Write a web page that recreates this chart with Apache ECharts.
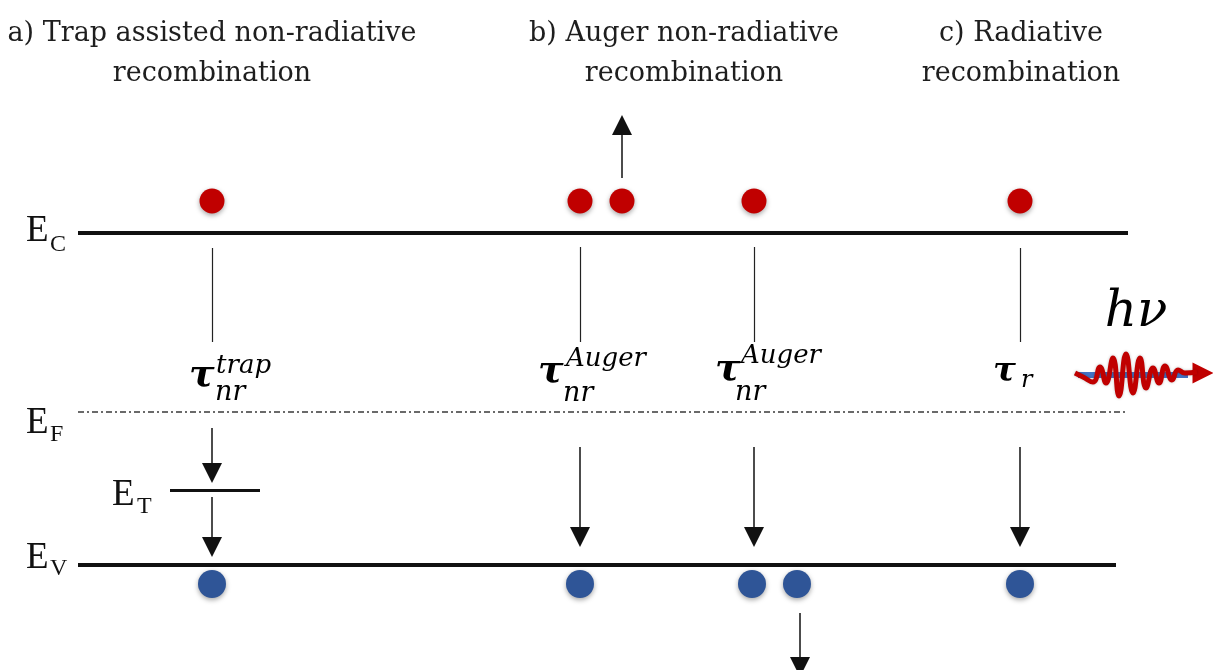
<!DOCTYPE html>
<html>
<head>
<meta charset="utf-8">
<script src="https://cdn.jsdelivr.net/npm/echarts@6/dist/echarts.min.js"></script>
<style>html,body{margin:0;padding:0;background:#fff}#c{width:1213px;height:670px}</style>
</head>
<body>
<div id="c"></div>
<script>
// ---- data (diagram coordinates, px-like units on hidden value axes) ----
const titleText = ['a) Trap assisted non-radiative', 'recombination', 'b) Auger non-radiative', 'recombination', 'c) Radiative', 'recombination'];
const titleX = [212, 212, 684, 684, 1021, 1021];
const titleY = [34, 74, 34, 74, 34, 74];

const bandNames = ['C', 'F', 'V', 'T'];
const bandY = [233, 412, 565, 490];
const bandX0 = [78, 78, 78, 170];
const bandX1 = [1128, 1128, 1116, 260];
const bandLabelX = [26, 26, 26, 112];
const bandLabelY = [231, 423, 558, 495];
const bandSubX = [50, 50, 50, 137];
const bandSubY = [245, 435, 569, 507];

const columnX = [212, 580, 754, 1020];
const thinTop = [248, 247, 247, 248];
const thinBottom = [342, 342, 342, 342];

const arrowX = [212, 212, 580, 754, 1020, 622, 800];
const arrowFrom = [428, 497, 447, 447, 447, 178, 613];
const arrowTo = [473, 547, 537, 537, 537, 125, 667];

const electronX = [212, 580, 622, 754, 1020];
const electronY = [201, 201, 201, 201, 201];
const holeX = [212, 580, 752, 797, 1020];
const holeY = [584, 584, 584, 584, 584];

const tauX = [189, 538, 715, 993];
const tauY = [376, 372, 370, 372];
const supText = ['trap', 'Auger', 'Auger'];
const supX = [216, 566, 741];
const supY = [366, 359, 356];
const subText = ['nr', 'nr', 'nr', 'r'];
const subX = [215, 563, 735, 1021];
const subY = [393, 394, 393, 381];

const photonText = 'hν';
const photonPos = [1136, 313];
const waveX = [1075, 1083, 1093, 1100, 1106, 1113, 1119, 1126, 1133, 1140, 1146, 1153, 1159, 1165, 1172, 1178, 1185, 1197];
const waveY = [373, 377, 382, 367, 383, 358, 396, 354, 393, 358, 388, 368, 383, 366, 380, 370, 373, 372];
const waveBand = [[1078, 375], [1188, 375]];
const waveArrow = [[1188, 373], [1203, 373]];

// ---- build ----
const serif = 'DejaVu Serif';
function seg(x0, y0, x1, y1) { return { coords: [[x0, y0], [x1, y1]] }; }
function textSeries(xs, ys, texts, label, z) {
  return {
    type: 'scatter', symbolSize: 1, z: z || 5, silent: true,
    itemStyle: { color: 'transparent', opacity: 1 },
    data: texts.map((t, i) => ({ name: t, value: [xs[i], ys[i]] })),
    label: Object.assign({ show: true, position: 'inside', formatter: '{b}', color: '#1a1a1a', opacity: 1 }, label)
  };
}

const levelSolid = [0, 2].map(i => seg(bandX0[i], bandY[i], bandX1[i], bandY[i]));
const levelTrap = [seg(bandX0[3], bandY[3], bandX1[3], bandY[3])];
const levelFermi = [seg(bandX0[1], bandY[1], bandX1[1], bandY[1])];
const thin = columnX.map((x, i) => seg(x, thinTop[i], x, thinBottom[i]));
const arrows = arrowX.map((x, i) => seg(x, arrowFrom[i], x, arrowTo[i]));

const option = {
  animation: false,
  backgroundColor: '#ffffff',
  grid: { left: 0, right: 0, top: 0, bottom: 0 },
  xAxis: { type: 'value', min: 0, max: 1213, show: false },
  yAxis: { type: 'value', min: 0, max: 670, inverse: true, show: false },
  series: [
    { type: 'lines', coordinateSystem: 'cartesian2d', z: 2, silent: true, symbol: 'none',
      lineStyle: { color: '#111', width: 4, opacity: 1 }, data: levelSolid },
    { type: 'lines', coordinateSystem: 'cartesian2d', z: 2, silent: true, symbol: 'none',
      lineStyle: { color: '#111', width: 3, opacity: 1 }, data: levelTrap },
    { type: 'lines', coordinateSystem: 'cartesian2d', z: 2, silent: true, symbol: 'none',
      lineStyle: { color: '#6a6a6a', width: 1.8, opacity: 1, type: [6, 3, 2, 3] }, data: levelFermi },
    { type: 'lines', coordinateSystem: 'cartesian2d', z: 2, silent: true, symbol: 'none',
      lineStyle: { color: '#222', width: 1.2, opacity: 1 }, data: thin },
    { type: 'lines', coordinateSystem: 'cartesian2d', z: 2, silent: true,
      symbol: ['none', 'triangle'], symbolSize: 20,
      lineStyle: { color: '#111', width: 1.5, opacity: 1 }, itemStyle: { color: '#000' }, data: arrows },
    { type: 'scatter', z: 4, silent: true, symbolSize: 25,
      itemStyle: { color: '#c00000', opacity: 1, shadowBlur: 5, shadowColor: 'rgba(0,0,0,0.35)', shadowOffsetY: 2 },
      data: electronX.map((x, i) => [x, electronY[i]]) },
    { type: 'scatter', z: 4, silent: true, symbolSize: 28,
      itemStyle: { color: '#2f5597', opacity: 1, shadowBlur: 5, shadowColor: 'rgba(0,0,0,0.35)', shadowOffsetY: 2 },
      data: holeX.map((x, i) => [x, holeY[i]]) },
    // photon wave
    { type: 'lines', coordinateSystem: 'cartesian2d', z: 3, silent: true, symbol: 'none',
      lineStyle: { color: '#4472c4', width: 6, opacity: 1 }, data: [{ coords: waveBand }] },
    { type: 'line', z: 4, silent: true, smooth: 0.5, showSymbol: false,
      lineStyle: { color: '#c00000', width: 5, shadowBlur: 3, shadowColor: 'rgba(0,0,0,0.25)' },
      data: waveX.map((x, i) => [x, waveY[i]]) },
    { type: 'lines', coordinateSystem: 'cartesian2d', z: 4, silent: true,
      symbol: ['none', 'triangle'], symbolSize: 21,
      lineStyle: { color: '#c00000', width: 4, opacity: 1 }, itemStyle: { color: '#c00000' }, data: [{ coords: waveArrow }] },
    // titles
    textSeries(titleX, titleY, titleText, { fontFamily: serif, fontSize: 27, align: 'center', verticalAlign: 'middle', color: '#1e1e1e' }),
    // band labels
    textSeries(bandLabelX, bandLabelY, bandNames.map(() => 'E'), { fontFamily: 'Liberation Serif', fontSize: 37, align: 'left', verticalAlign: 'middle', color: '#111' }),
    textSeries(bandSubX, bandSubY, bandNames, { fontFamily: 'Liberation Serif', fontSize: 24, align: 'left', verticalAlign: 'middle', color: '#111' }),
    // lifetimes
    textSeries(tauX.slice(0, 3), tauY.slice(0, 3), ['τ', 'τ', 'τ'], { fontFamily: serif, fontStyle: 'italic', fontWeight: 'bold', fontSize: 38, align: 'left', verticalAlign: 'middle', color: '#000' }),
    textSeries(tauX.slice(3), tauY.slice(3), ['τ'], { fontFamily: serif, fontStyle: 'italic', fontWeight: 'bold', fontSize: 34, align: 'left', verticalAlign: 'middle', color: '#000' }),
    textSeries(supX, supY, supText, { fontFamily: serif, fontStyle: 'italic', fontSize: 26, align: 'left', verticalAlign: 'middle', color: '#000' }),
    textSeries(subX.slice(0, 3), subY.slice(0, 3), subText.slice(0, 3), { fontFamily: serif, fontStyle: 'italic', fontSize: 27, align: 'left', verticalAlign: 'middle', color: '#000' }),
    textSeries(subX.slice(3), subY.slice(3), subText.slice(3), { fontFamily: serif, fontStyle: 'italic', fontSize: 24, align: 'left', verticalAlign: 'middle', color: '#000' }),
    textSeries([photonPos[0]], [photonPos[1]], [photonText], { fontFamily: serif, fontStyle: 'italic', fontSize: 50, align: 'center', verticalAlign: 'middle', color: '#000' })
  ]
};
const chart = echarts.init(document.getElementById('c'), null, { renderer: 'canvas' });
chart.setOption(option);
</script>
</body>
</html>
